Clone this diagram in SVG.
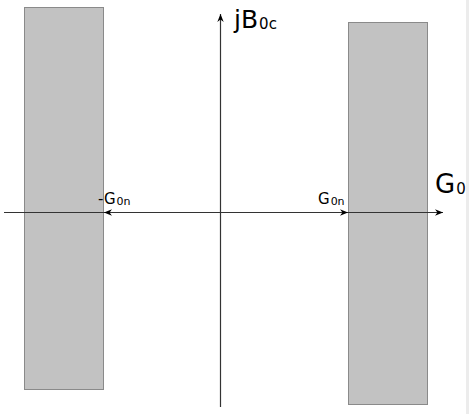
<svg xmlns="http://www.w3.org/2000/svg" width="469" height="414" viewBox="0 0 469 414">
<style>
.band{fill:#c2c2c2;stroke:#8a8a8a;stroke-width:1}
.ax{stroke:#333;stroke-width:1.2;fill:none}
text{font-family:"DejaVu Sans",sans-serif;fill:#000}
</style>
<defs>
<marker id="ah" viewBox="0 0 10 10" refX="10" refY="5" markerWidth="11" markerHeight="8" markerUnits="userSpaceOnUse" orient="auto">
<path d="M0,1 L10,5 L0,9 L3,5 Z" fill="#000"/>
</marker>
</defs>
<rect x="0" y="0" width="469" height="414" fill="#fff"/>
<rect x="466" y="0" width="3" height="414" fill="#ececec"/>
<g id="band-left"><rect class="band" x="24.5" y="7.5" width="79" height="382"/></g>
<g id="band-right"><rect class="band" x="348.5" y="22.5" width="79" height="382"/></g>
<g id="connectors">
<line class="ax" x1="4" y1="212.5" x2="443" y2="212.5" marker-end="url(#ah)"/>
<line class="ax" x1="220.5" y1="407" x2="220.5" y2="14" marker-end="url(#ah)"/>
<line class="ax" x1="220" y1="212.5" x2="104" y2="212.5" marker-end="url(#ah)"/>
<line class="ax" x1="220" y1="212.5" x2="348" y2="212.5" marker-end="url(#ah)"/>
</g>
<g id="labels">
<text x="234" y="28" font-size="25">jB<tspan font-size="15" dx="1" dy="1">0c</tspan></text>
<text x="435" y="193" font-size="26">G<tspan font-size="15" dx="1" dy="1">0</tspan></text>
<text x="98" y="204" font-size="15">-G<tspan font-size="11" dx="1" dy="1">0n</tspan></text>
<text x="318" y="204" font-size="15">G<tspan font-size="11" dx="1" dy="1">0n</tspan></text>
</g>
</svg>
